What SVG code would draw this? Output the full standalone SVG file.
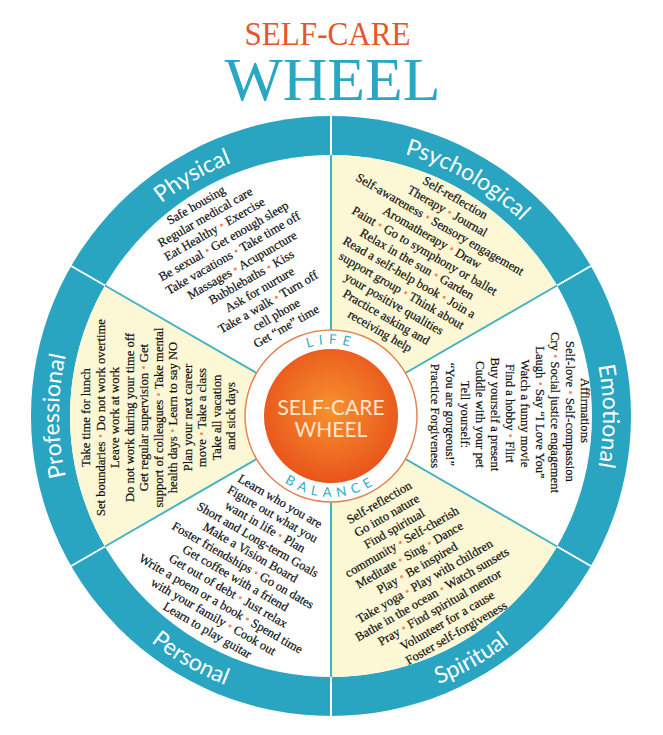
<svg xmlns="http://www.w3.org/2000/svg" width="663" height="735" viewBox="0 0 663 735">
<defs>
<style>
.t{font-family:"Liberation Serif","Times New Roman",serif;font-size:12.6px;fill:#111111;stroke:#111111;stroke-width:0.2px;text-anchor:middle}
.b{fill:#ee8a5e;stroke:none}
.lab{font-family:Lato,"Open Sans",sans-serif;font-size:23px;fill:#ffffff;text-anchor:middle}
.ring{font-family:Lato,"Open Sans",sans-serif;font-size:13.5px;fill:#36aec2;letter-spacing:5.5px;text-anchor:middle}
.yel{fill:#fcf8d6}
.div{stroke:#45b2c3;stroke-width:2}
.divw{stroke:#ffffff;stroke-width:2}
</style>
<radialGradient id="og" cx="50%" cy="45%" r="55%">
<stop offset="0" stop-color="#f7922f"/>
<stop offset="1" stop-color="#e9541b"/>
</radialGradient>
<path id="pPhys" d="M95.44,280 A272,272 0 0 1 331,144"/>
<path id="pPsy" d="M331,144 A272,272 0 0 1 566.56,280"/>
<path id="pEmo" d="M566.56,280 A272,272 0 0 1 566.56,552"/>
<path id="pProf" d="M95.44,552 A272,272 0 0 1 95.44,280"/>
<path id="pPers" d="M80.72,560.5 A289,289 0 0 0 331,705"/>
<path id="pSpir" d="M331,705 A289,289 0 0 0 581.28,560.5"/>
<path id="pLife" d="M268.65,380 A72,72 0 0 1 393.35,380"/>
<path id="pBal" d="M260.85,456.5 A81,81 0 0 0 401.15,456.5"/>
</defs>
<rect width="663" height="735" fill="#ffffff"/>
<g id="title">
<text x="327.5" y="45" font-family="Liberation Serif,serif" font-size="33" fill="#e4572e" text-anchor="middle" textLength="166" lengthAdjust="spacingAndGlyphs">SELF-CARE</text>
<text x="332.5" y="100" font-family="Liberation Serif,serif" font-size="62" fill="#2aa7c2" text-anchor="middle" textLength="216" lengthAdjust="spacingAndGlyphs">WHEEL</text>
</g>
<g id="wheel-base">
<circle cx="331" cy="416" r="300" fill="#2aa5c1"/>
<circle cx="331" cy="416" r="261" fill="#ffffff"/>
<path class="yel" d="M331,416 L331,155 A261,261 0 0 1 557.03,285.5 Z"/>
<path class="yel" d="M331,416 L557.03,546.5 A261,261 0 0 1 331,677 Z"/>
<path class="yel" d="M331,416 L104.97,546.5 A261,261 0 0 1 104.97,285.5 Z"/>
</g>
<g id="connectors">
<line class="div" x1="331" y1="416" x2="331" y2="155"/>
<line class="div" x1="331" y1="416" x2="557.03" y2="285.5"/>
<line class="div" x1="331" y1="416" x2="557.03" y2="546.5"/>
<line class="div" x1="331" y1="416" x2="331" y2="677"/>
<line class="div" x1="331" y1="416" x2="104.97" y2="546.5"/>
<line class="div" x1="331" y1="416" x2="104.97" y2="285.5"/>
<line class="divw" x1="331" y1="155" x2="331" y2="116"/>
<line class="divw" x1="557.03" y1="285.5" x2="590.81" y2="266"/>
<line class="divw" x1="557.03" y1="546.5" x2="590.81" y2="566"/>
<line class="divw" x1="331" y1="677" x2="331" y2="716"/>
<line class="divw" x1="104.97" y1="546.5" x2="71.19" y2="566"/>
<line class="divw" x1="104.97" y1="285.5" x2="71.19" y2="266"/>
</g>
<g id="physical">
<text class="lab"><textPath href="#pPhys" startOffset="50%">Physical</textPath></text>
<text class="t" transform="translate(331,416) rotate(-30)">
<tspan x="-10" y="-246">Safe housing</tspan>
<tspan x="-8" y="-231">Regular medical care</tspan>
<tspan x="-6" y="-216">Eat Healthy <tspan class="b">•</tspan> Exercise</tspan>
<tspan x="-4" y="-201">Be sexual <tspan class="b">•</tspan> Get enough sleep</tspan>
<tspan x="-2" y="-186">Take vacations <tspan class="b">•</tspan> Take time off</tspan>
<tspan x="0" y="-171">Massages <tspan class="b">•</tspan> Acupuncture</tspan>
<tspan x="2" y="-156">Bubblebaths <tspan class="b">•</tspan> Kiss</tspan>
<tspan x="3" y="-141">Ask for nurture</tspan>
<tspan x="4" y="-126">Take a walk <tspan class="b">•</tspan> Turn off</tspan>
<tspan x="5" y="-111">cell phone</tspan>
<tspan x="6" y="-96">Get “me” time</tspan>
</text>
</g>
<g id="psychological">
<text class="lab"><textPath href="#pPsy" startOffset="50%">Psychological</textPath></text>
<text class="t" transform="translate(331,416) rotate(30)">
<tspan x="0" y="-247">Self-reflection</tspan>
<tspan x="0" y="-231.7">Therapy <tspan class="b">•</tspan> Journal</tspan>
<tspan x="0" y="-216.4">Self-awareness <tspan class="b">•</tspan> Sensory engagement</tspan>
<tspan x="0" y="-201.1">Aromatherapy <tspan class="b">•</tspan> Draw</tspan>
<tspan x="0" y="-185.8">Paint <tspan class="b">•</tspan> Go to symphony or ballet</tspan>
<tspan x="0" y="-170.5">Relax in the sun <tspan class="b">•</tspan> Garden</tspan>
<tspan x="0" y="-155.2">Read a self-help book <tspan class="b">•</tspan> Join a</tspan>
<tspan x="0" y="-139.9">support group <tspan class="b">•</tspan> Think about</tspan>
<tspan x="0" y="-124.6">your positive qualities</tspan>
<tspan x="0" y="-109.3">Practice asking and</tspan>
<tspan x="0" y="-94">receiving help</tspan>
</text>
</g>
<g id="emotional">
<text class="lab"><textPath href="#pEmo" startOffset="50%">Emotional</textPath></text>
<text class="t" transform="translate(331,416) rotate(90)">
<tspan x="-4" y="-250">Affirmations</tspan>
<tspan x="-3" y="-235">Self-love <tspan class="b">•</tspan> Self-compassion</tspan>
<tspan x="-2" y="-220">Cry <tspan class="b">•</tspan> Social justice engagement</tspan>
<tspan x="-2" y="-205">Laugh <tspan class="b">•</tspan> Say “I Love You”</tspan>
<tspan x="-1" y="-190">Watch a funny movie</tspan>
<tspan x="-1" y="-175">Find a hobby <tspan class="b">•</tspan> Flirt</tspan>
<tspan x="0" y="-160">Buy yourself a present</tspan>
<tspan x="0" y="-145">Cuddle with your pet</tspan>
<tspan x="0" y="-130">Tell yourself:</tspan>
<tspan x="0" y="-115">“You are gorgeous!”</tspan>
<tspan x="0" y="-100">Practice Forgiveness</tspan>
</text>
</g>
<g id="spiritual">
<text class="lab"><textPath href="#pSpir" startOffset="50%">Spiritual</textPath></text>
<text class="t" transform="translate(331,416) rotate(-30)">
<tspan x="0" y="103">Self-reflection</tspan>
<tspan x="0" y="118.2">Go into nature</tspan>
<tspan x="0" y="133.3">Find spiritual</tspan>
<tspan x="0" y="148.5">community <tspan class="b">•</tspan> Self-cherish</tspan>
<tspan x="0" y="163.6">Meditate <tspan class="b">•</tspan> Sing <tspan class="b">•</tspan> Dance</tspan>
<tspan x="0" y="178.8">Play <tspan class="b">•</tspan> Be inspired</tspan>
<tspan x="0" y="193.9">Take yoga <tspan class="b">•</tspan> Play with children</tspan>
<tspan x="0" y="209.1">Bathe in the ocean <tspan class="b">•</tspan> Watch sunsets</tspan>
<tspan x="0" y="224.2">Pray <tspan class="b">•</tspan> Find spiritual mentor</tspan>
<tspan x="0" y="239.4">Volunteer for a cause</tspan>
<tspan x="0" y="254.5">Foster self-forgiveness</tspan>
</text>
</g>
<g id="personal">
<text class="lab"><textPath href="#pPers" startOffset="50%">Personal</textPath></text>
<text class="t" transform="translate(331,416) rotate(30)">
<tspan x="0" y="103.4">Learn who you are</tspan>
<tspan x="0" y="118.2">Figure out what you</tspan>
<tspan x="0" y="133">want in life <tspan class="b">•</tspan> Plan</tspan>
<tspan x="0" y="147.8">Short and Long-term Goals</tspan>
<tspan x="0" y="162.6">Make a Vision Board</tspan>
<tspan x="0" y="177.4">Foster friendships <tspan class="b">•</tspan> Go on dates</tspan>
<tspan x="0" y="192.2">Get coffee with a friend</tspan>
<tspan x="0" y="207">Get out of debt <tspan class="b">•</tspan> Just relax</tspan>
<tspan x="0" y="221.8">Write a poem or a book <tspan class="b">•</tspan> Spend time</tspan>
<tspan x="0" y="236.6">with your family <tspan class="b">•</tspan> Cook out</tspan>
<tspan x="0" y="251.4">Learn to play guitar</tspan>
</text>
</g>
<g id="professional">
<text class="lab"><textPath href="#pProf" startOffset="50%">Professional</textPath></text>
<text class="t" transform="translate(331,416) rotate(-90)">
<tspan x="0" y="-241">Take time for lunch</tspan>
<tspan x="0" y="-226.5">Set boundaries <tspan class="b">•</tspan> Do not work overtime</tspan>
<tspan x="0" y="-212">Leave work at work</tspan>
<tspan x="0" y="-197.5">Do not work during your time off</tspan>
<tspan x="0" y="-183">Get regular supervision <tspan class="b">•</tspan> Get</tspan>
<tspan x="0" y="-168.5">support of colleagues <tspan class="b">•</tspan> Take mental</tspan>
<tspan x="0" y="-154">health days <tspan class="b">•</tspan> Learn to say NO</tspan>
<tspan x="0" y="-139.5">Plan your next career</tspan>
<tspan x="0" y="-125">move <tspan class="b">•</tspan> Take a class</tspan>
<tspan x="0" y="-110.5">Take all vacation</tspan>
<tspan x="0" y="-96">and sick days</tspan>
</text>
</g>
<g id="center">
<circle cx="331" cy="416" r="86" fill="#ffffff" stroke="#e38556" stroke-width="1.5"/>
<circle cx="331" cy="416" r="67" fill="url(#og)"/>
<text class="ring"><textPath href="#pLife" startOffset="50%">LIFE</textPath></text>
<text class="ring"><textPath href="#pBal" startOffset="50%">BALANCE</textPath></text>
<text x="331" y="415" font-family="Lato,'Open Sans',sans-serif" font-size="21" fill="#fce8cc" text-anchor="middle">SELF-CARE</text>
<text x="331" y="437" font-family="Lato,'Open Sans',sans-serif" font-size="21" fill="#fce8cc" text-anchor="middle">WHEEL</text>
</g>
</svg>
